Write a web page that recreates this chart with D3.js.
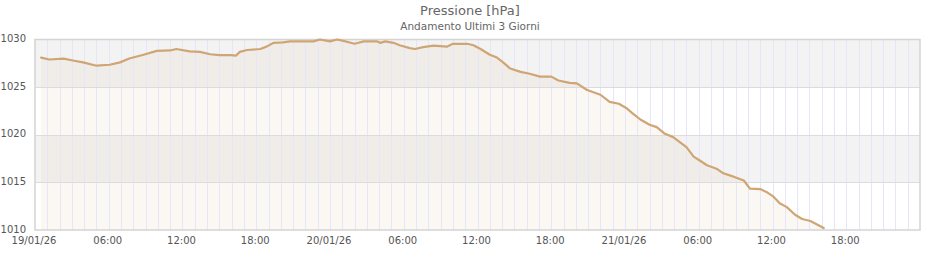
<!DOCTYPE html>
<html>
<head>
<meta charset="utf-8">
<script src="https://cdn.jsdelivr.net/npm/d3@7/dist/d3.min.js"></script>
<style>
  html, body { margin: 0; padding: 0; background: #ffffff; }
  svg { display: block; font-family: "DejaVu Sans", Verdana, sans-serif; }
</style>
</head>
<body>
<svg id="chart" width="940" height="260"></svg>
<script>
const title = "Pressione [hPa]";
const subtitle = "Andamento Ultimi 3 Giorni";
const yTicks = [1010, 1015, 1020, 1025, 1030];
const xStart = "2026-01-19 00:00";
const xEnd = "2026-01-22 00:00";

const times = [
  "2026-01-19 00:30","2026-01-19 01:10","2026-01-19 02:20","2026-01-19 03:05","2026-01-19 03:55",
  "2026-01-19 05:00","2026-01-19 06:05","2026-01-19 06:55","2026-01-19 07:40","2026-01-19 08:50",
  "2026-01-19 09:55","2026-01-19 11:00","2026-01-19 11:30","2026-01-19 12:35","2026-01-19 13:25",
  "2026-01-19 14:15","2026-01-19 15:00","2026-01-19 15:55","2026-01-19 16:20","2026-01-19 16:40",
  "2026-01-19 17:15","2026-01-19 18:20","2026-01-19 18:50","2026-01-19 19:25","2026-01-19 20:10",
  "2026-01-19 20:45","2026-01-19 22:40","2026-01-19 23:10","2026-01-20 00:00","2026-01-20 00:35",
  "2026-01-20 01:05","2026-01-20 02:00","2026-01-20 02:45","2026-01-20 03:50","2026-01-20 04:05",
  "2026-01-20 04:30","2026-01-20 05:10","2026-01-20 05:40","2026-01-20 06:30","2026-01-20 06:55",
  "2026-01-20 07:35","2026-01-20 08:25","2026-01-20 09:30","2026-01-20 10:00","2026-01-20 11:10",
  "2026-01-20 11:40","2026-01-20 12:15","2026-01-20 13:00","2026-01-20 13:35","2026-01-20 14:05",
  "2026-01-20 14:40","2026-01-20 15:30","2026-01-20 16:15","2026-01-20 17:05","2026-01-20 18:00",
  "2026-01-20 18:35","2026-01-20 19:30","2026-01-20 20:05","2026-01-20 20:55","2026-01-20 22:00",
  "2026-01-20 22:45","2026-01-20 23:30","2026-01-21 00:10","2026-01-21 00:40","2026-01-21 01:15",
  "2026-01-21 02:00","2026-01-21 02:35","2026-01-21 03:15","2026-01-21 03:55","2026-01-21 05:00",
  "2026-01-21 05:35","2026-01-21 06:05","2026-01-21 06:40","2026-01-21 07:30","2026-01-21 08:00",
  "2026-01-21 08:50","2026-01-21 09:40","2026-01-21 10:10","2026-01-21 11:00","2026-01-21 11:30",
  "2026-01-21 12:05","2026-01-21 12:35","2026-01-21 13:10","2026-01-21 13:50","2026-01-21 14:25",
  "2026-01-21 15:05","2026-01-21 15:35","2026-01-21 16:10"
];
const pressure = [
  1028.1,1027.9,1028.0,1027.8,1027.6,
  1027.25,1027.35,1027.6,1028.0,1028.4,
  1028.8,1028.85,1029.0,1028.75,1028.7,
  1028.45,1028.35,1028.35,1028.3,1028.7,
  1028.9,1029.0,1029.25,1029.65,1029.7,
  1029.8,1029.8,1030.0,1029.8,1030.0,
  1029.85,1029.55,1029.8,1029.8,1029.65,
  1029.8,1029.65,1029.4,1029.1,1029.0,
  1029.2,1029.35,1029.25,1029.55,1029.55,
  1029.4,1029.0,1028.4,1028.1,1027.6,
  1026.95,1026.6,1026.4,1026.1,1026.1,
  1025.7,1025.45,1025.4,1024.7,1024.2,
  1023.45,1023.25,1022.75,1022.2,1021.6,
  1021.05,1020.8,1020.1,1019.75,1018.7,
  1017.7,1017.3,1016.8,1016.4,1015.95,
  1015.6,1015.2,1014.35,1014.3,1014.0,
  1013.5,1012.8,1012.4,1011.6,1011.15,
  1010.95,1010.6,1010.2
];

const parse = d3.timeParse("%Y-%m-%d %H:%M");
const data = times.map((t, i) => ({ t: parse(t), v: pressure[i] }));

const svg = d3.select("#chart");
const m = { left: 35, right: 920, top: 39.5, bottom: 230 };

const x = d3.scaleTime().domain([parse(xStart), parse(xEnd)]).range([m.left, m.right]);
const y = d3.scaleLinear().domain([1010, 1030]).range([m.bottom, m.top]);

// Alternating background bands
const bands = d3.pairs(yTicks);
svg.append("g").selectAll("rect").data(bands).join("rect")
  .attr("x", m.left).attr("width", m.right - m.left)
  .attr("y", d => y(d[1])).attr("height", d => y(d[0]) - y(d[1]))
  .attr("fill", (d, i) => i % 2 === 1 ? "#f3f3f3" : "#ffffff");

// Area under the line
const area = d3.area().x(d => x(d.t)).y0(y(1010)).y1(d => y(d.v));
svg.append("path").datum(data).attr("d", area)
  .attr("fill", "rgb(205,160,110)").attr("fill-opacity", 0.08);

// Hourly vertical gridlines
const hours = d3.timeHour.every(1).range(x.domain()[0], x.domain()[1]).slice(1);
svg.append("g").selectAll("line").data(hours).join("line")
  .attr("x1", d => Math.round(x(d)) + 0.5).attr("x2", d => Math.round(x(d)) + 0.5)
  .attr("y1", m.top).attr("y2", m.bottom)
  .attr("stroke", "#e6e6f8").attr("stroke-width", 1);

// Horizontal gridlines
svg.append("g").selectAll("line").data(yTicks.slice(1, -1)).join("line")
  .attr("x1", m.left).attr("x2", m.right)
  .attr("y1", d => Math.round(y(d)) + 0.5).attr("y2", d => Math.round(y(d)) + 0.5)
  .attr("stroke", "#dcdcdc").attr("stroke-width", 1);

// Plot border
svg.append("rect")
  .attr("x", m.left).attr("y", m.top)
  .attr("width", m.right - m.left).attr("height", m.bottom - m.top)
  .attr("fill", "none").attr("stroke", "#d4d4d4").attr("stroke-width", 1.5);

// Line
const line = d3.line().x(d => x(d.t)).y(d => y(d.v));
svg.append("path").datum(data).attr("d", line)
  .attr("fill", "none").attr("stroke", "#cfa574").attr("stroke-width", 2.2)
  .attr("stroke-linejoin", "round").attr("stroke-linecap", "round");

// Y axis
const yAxis = svg.append("g").attr("transform", `translate(${m.left},0)`)
  .call(d3.axisLeft(y).tickValues(yTicks).tickSize(0).tickPadding(9).tickFormat(d3.format("d")));
yAxis.select(".domain").remove();
yAxis.selectAll("text").attr("fill", "#555").attr("font-size", "10px")
  .attr("font-family", "DejaVu Sans").attr("dy", "0.2em");

// X axis labels
const fmtDay = d3.timeFormat("%d/%m/%y");
const fmtHour = d3.timeFormat("%H:%M");
const xTickVals = d3.timeHour.every(6).range(x.domain()[0], x.domain()[1]);
const xAxis = svg.append("g").attr("transform", `translate(-1.5,${m.bottom})`)
  .call(d3.axisBottom(x).tickValues(xTickVals).tickSize(0).tickPadding(7)
    .tickFormat(d => d.getHours() === 0 ? fmtDay(d) : fmtHour(d)));
xAxis.select(".domain").remove();
xAxis.selectAll("text").attr("fill", "#555").attr("font-size", "10px")
  .attr("font-family", "DejaVu Sans");

// Titles
svg.append("text").attr("x", 470).attr("y", 14.5).attr("text-anchor", "middle")
  .attr("font-size", "13px").attr("fill", "#666").text(title);
svg.append("text").attr("x", 470).attr("y", 30).attr("text-anchor", "middle")
  .attr("font-size", "10.5px").attr("fill", "#666").text(subtitle);
</script>
</body>
</html>
